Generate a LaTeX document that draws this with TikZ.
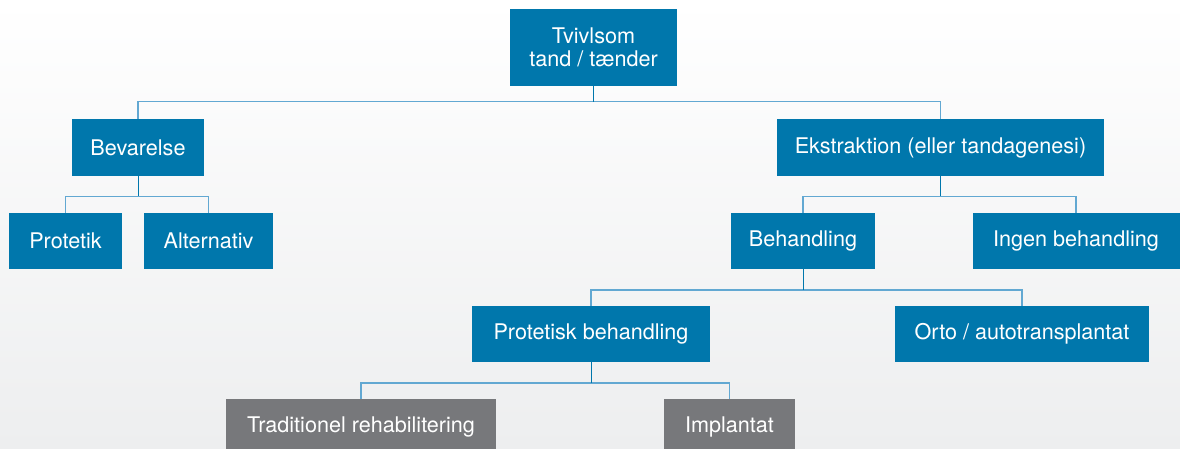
\documentclass[tikz,border=0pt]{standalone}
\usepackage{fontspec}
\setmainfont{TeX Gyre Heros}
\definecolor{boxblue}{RGB}{0,119,172}
\definecolor{boxgray}{RGB}{119,120,123}
\definecolor{linkblue}{RGB}{98,168,210}
\definecolor{bgbottom}{RGB}{237,238,239}
\tikzset{
  bluebox/.style={fill=boxblue, text=white, inner sep=0pt, minimum height=56.5pt, align=center,
    font=\fontsize{21.6}{23}\selectfont},
  graybox/.style={bluebox, fill=boxgray},
  link/.style={draw=linkblue, line width=1.3pt},
  stub/.style={draw=boxblue, line width=0.9pt},
}
\begin{document}
\begin{tikzpicture}[x=1pt,y=-1pt]
\useasboundingbox (0,0) rectangle (1180,449);
\shade[top color=white, bottom color=bgbottom] (0,0) rectangle (1180,449);
\clip (0,0) rectangle (1180,449);

\node[bluebox, minimum width=167pt, minimum height=77pt] (top) at (593.5,47.5) {Tvivlsom\\tand / tænder};
\node[bluebox, minimum width=132pt] (bev) at (138,147.5) {Bevarelse};
\node[bluebox, minimum width=327pt] (ext) at (940.5,147.5) {Ekstraktion (eller tandagenesi)};
\node[bluebox, minimum width=113pt] (prot) at (65.5,241) {Protetik};
\node[bluebox, minimum width=129pt] (alt) at (208.5,241) {Alternativ};
\node[bluebox, minimum width=144pt] (beh) at (803,241) {Behandling};
\node[bluebox, minimum width=207pt] (ingen) at (1076,241) {Ingen behandling};
\node[bluebox, minimum width=238pt] (ptb) at (591,334) {Protetisk behandling};
\node[bluebox, minimum width=254pt] (orto) at (1022,334) {Orto / autotransplantat};
\node[graybox, minimum width=270pt] (trad) at (361,427) {Traditionel rehabilitering};
\node[graybox, minimum width=131pt] (impl) at (729.5,427) {Implantat};

\path (top.south) ++(0,15.5) coordinate (j1);
\path (bev.south) ++(0,20.5) coordinate (j2);
\path (ext.south) ++(0,20.5) coordinate (j3);
\path (beh.south) ++(0,20.5) coordinate (j4);
\path (ptb.south) ++(0,20.5) coordinate (j5);

\draw[link] (bev.north) |- (j1) -| (ext.north);
\draw[link] (prot.north) |- (j2) -| (alt.north);
\draw[link] (beh.north) |- (j3) -| (ingen.north);
\draw[link] (ptb.north) |- (j4) -| (orto.north);
\draw[link] (trad.north) |- (j5) -| (impl.north);

\draw[stub] (top.south) -- (j1);
\draw[stub] (bev.south) -- (j2);
\draw[stub] (ext.south) -- (j3);
\draw[stub] (beh.south) -- (j4);
\draw[stub] (ptb.south) -- (j5);
\end{tikzpicture}
\end{document}
